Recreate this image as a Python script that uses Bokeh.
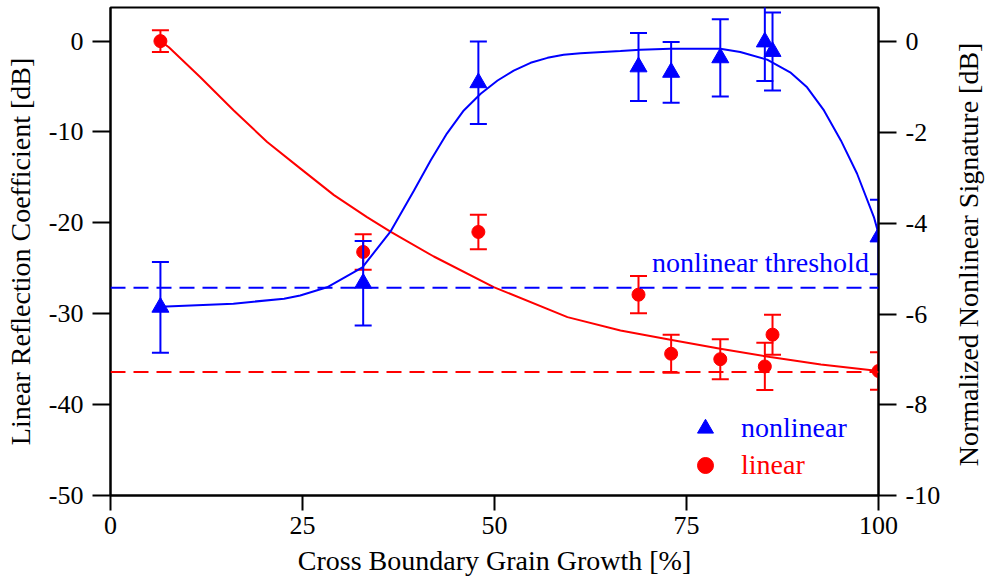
import math
from bokeh.plotting import figure
from bokeh.layouts import row
from bokeh.models import (Range1d, LinearAxis, FixedTicker, Label, Legend,
                          LegendItem, Span)
from bokeh.embed import file_html
from bokeh.resources import INLINE

# ---- data ----
growth = [6.5, 32.9, 47.9, 68.75, 73.0, 79.4, 85.2, 86.2, 100.0]
linear_db = [0.0, -23.2, -21.0, -27.9, -34.4, -35.0, -35.8, -32.3, -36.3]
linear_err = [1.2, 1.95, 1.9, 2.05, 2.1, 2.2, 2.6, 2.2, 2.05]
nonlinear_db = [-5.85, -5.32, -0.9, -0.55, -0.67, -0.35, 0.0, -0.21, -4.3]
nonlinear_err = [1.0, 0.93, 0.91, 0.75, 0.67, 0.85, 0.86, 0.86, 0.82]

linear_fit_x = [6.5, 7.6, 11.7, 16.05, 20.4, 24.7, 29.1, 33.4, 36.5, 42.1,
                49.9, 59.5, 66.4, 72.9, 79.4, 85.9, 92.5, 100.0]
linear_fit_y = [0.0, -0.67, -3.97, -7.63, -11.1, -14.0, -16.95, -19.37,
                -21.0, -23.7, -27.07, -30.37, -31.84, -32.86, -33.85, -34.77,
                -35.58, -36.31]

nonlinear_fit_x = [6.5, 16.0, 22.6, 24.7, 28.2, 32.8, 36.5, 39.5, 41.7, 43.8,
                   46.0, 48.2, 50.4, 52.5, 54.7, 56.9, 59.0, 61.2, 66.4, 69.0,
                   72.9, 79.4, 82.0, 85.5, 88.5, 90.7, 92.9, 95.1, 97.2, 99.4,
                   100.0]
nonlinear_fit_y = [-5.84, -5.77, -5.66, -5.59, -5.41, -4.97, -4.17, -3.28,
                   -2.61, -2.02, -1.51, -1.14, -0.85, -0.63, -0.46, -0.35,
                   -0.28, -0.25, -0.20, -0.17, -0.15, -0.15, -0.22, -0.39,
                   -0.67, -1.0, -1.51, -2.17, -2.9, -3.86, -4.23]

linear_threshold = -36.4
nonlinear_threshold = -5.42

x_ticks = [0, 25, 50, 75, 100]
left_ticks = [-50, -40, -30, -20, -10, 0]
right_ticks = [-10, -8, -6, -4, -2, 0]

FONT = "Liberation Serif"
BLUE = "#0000ff"
RED = "#ff0000"
TICK_SIZE = "26px"
LABEL_SIZE = "28px"

p = figure(width=948, height=581, x_range=Range1d(0, 100),
           y_range=Range1d(-50, 3.7), output_backend="svg",
           toolbar_location=None, min_border_left=110, min_border_right=70,
           min_border_top=7, min_border_bottom=86)
p.extra_y_ranges = {"right": Range1d(-10, 0.76)}
p.xgrid.visible = False
p.ygrid.visible = False
p.outline_line_color = "black"
p.outline_line_width = 2
p.background_fill_color = "white"
p.border_fill_color = "white"

raxis = LinearAxis(y_range_name="right")
p.add_layout(raxis, "right")

p.xaxis.axis_label = "Cross Boundary Grain Growth [%]"
p.yaxis[0].axis_label = "Linear Reflection Coefficient [dB]"
p.xaxis.ticker = FixedTicker(ticks=x_ticks)
p.yaxis[0].ticker = FixedTicker(ticks=left_ticks)
raxis.ticker = FixedTicker(ticks=right_ticks)
p.xaxis.major_label_overrides = {t: str(t) for t in x_ticks}
p.yaxis[0].major_label_overrides = {t: str(t) for t in left_ticks}
raxis.major_label_overrides = {t: str(t) for t in right_ticks}

for ax in p.axis:
    ax.axis_line_width = 2
    ax.axis_line_color = "black"
    ax.major_tick_line_width = 2
    ax.major_tick_line_color = "black"
    ax.major_tick_in = 0
    ax.major_tick_out = 18
    ax.minor_tick_line_color = None
    ax.major_label_text_font = FONT
    ax.major_label_text_font_size = TICK_SIZE
    ax.major_label_text_color = "black"
    ax.axis_label_text_font = FONT
    ax.axis_label_text_font_size = LABEL_SIZE
    ax.axis_label_text_font_style = "normal"
    ax.axis_label_text_color = "black"
    ax.major_label_standoff = 9
    ax.axis_label_standoff = 10
p.xaxis.major_tick_out = 15
p.xaxis.major_label_standoff = 6
p.xaxis.axis_label_standoff = 8

# thresholds
p.add_layout(Span(location=linear_threshold, dimension="width",
                  line_color=RED, line_width=2, line_dash="15 8"))
p.add_layout(Span(location=nonlinear_threshold, dimension="width",
                  y_range_name="right", line_color=BLUE, line_width=2,
                  line_dash="15 8"))

# linear series (left axis)
lin_lo = [v - e for v, e in zip(linear_db, linear_err)]
lin_hi = [v + e for v, e in zip(linear_db, linear_err)]
p.line(linear_fit_x, linear_fit_y, line_color=RED, line_width=2)
p.segment(x0=growth, y0=lin_lo, x1=growth, y1=lin_hi, line_color=RED,
          line_width=2)
p.scatter(growth, lin_lo, marker="dash", size=17, line_color=RED,
          line_width=2)
p.scatter(growth, lin_hi, marker="dash", size=17, line_color=RED,
          line_width=2)
lin_pts = p.scatter(growth, linear_db, marker="circle", size=13,
                    fill_color=RED, line_color=RED)

# nonlinear series (right axis)
nl_lo = [v - e for v, e in zip(nonlinear_db, nonlinear_err)]
nl_hi = [v + e for v, e in zip(nonlinear_db, nonlinear_err)]
p.line(nonlinear_fit_x, nonlinear_fit_y, line_color=BLUE, line_width=2,
       y_range_name="right")
p.segment(x0=growth, y0=nl_lo, x1=growth, y1=nl_hi, line_color=BLUE,
          line_width=2, y_range_name="right")
p.scatter(growth, nl_lo, marker="dash", size=17, line_color=BLUE,
          line_width=2, y_range_name="right")
p.scatter(growth, nl_hi, marker="dash", size=17, line_color=BLUE,
          line_width=2, y_range_name="right")
nl_pts = p.scatter(growth, nonlinear_db, marker="triangle", size=17,
                   fill_color=BLUE, line_color=BLUE, y_range_name="right")

p.add_layout(Label(x=70.5, y=-24.4, text="nonlinear threshold",
                   text_color=BLUE, text_font=FONT, text_font_size=LABEL_SIZE,
                   text_baseline="alphabetic"))

# legends (one per item so each label keeps its series colour)
for item_label, rend, color, loc in [("nonlinear", nl_pts, BLUE, (575, 47)),
                                     ("linear", lin_pts, RED, (575, 10))]:
    lg = Legend(items=[LegendItem(label=item_label, renderers=[rend])],
                location=loc, orientation="vertical",
                glyph_width=40, glyph_height=40, label_standoff=16,
                padding=0, margin=0, spacing=0,
                border_line_color=None, background_fill_alpha=0,
                label_text_font=FONT, label_text_font_size=LABEL_SIZE,
                label_text_color=color)
    p.add_layout(lg)

# narrow strip holding the right axis title, read bottom-to-top
strip = figure(width=40, height=581, x_range=Range1d(0, 40),
               y_range=Range1d(0, 581), output_backend="svg",
               toolbar_location=None, x_axis_type=None, y_axis_type=None,
               min_border=0, min_border_left=0, min_border_right=0,
               min_border_top=0, min_border_bottom=0)
strip.outline_line_color = None
strip.background_fill_color = "white"
strip.border_fill_color = "white"
strip.grid.visible = False
strip.add_layout(Label(x=20, y=287, text="Normalized Nonlinear Signature [dB]",
                       angle=math.pi / 2, text_align="center",
                       text_baseline="middle", text_color="black",
                       text_font=FONT, text_font_size=LABEL_SIZE))

layout = row(p, strip, spacing=0)
open("out.html", "w").write(file_html(layout, INLINE))
